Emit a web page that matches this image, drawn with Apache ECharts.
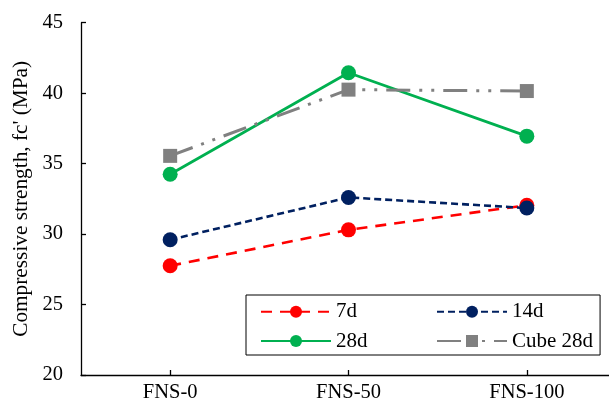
<!DOCTYPE html>
<html>
<head>
<meta charset="utf-8">
<script src="https://cdn.jsdelivr.net/npm/echarts@6/dist/echarts.min.js"></script>
<style>
  html, body { margin: 0; padding: 0; background: #fff; overflow: hidden; }
  #frame { width: 609px; height: 409px; overflow: hidden; }
  #chart { width: 620px; height: 409px; }
</style>
</head>
<body>
<div id="frame"><div id="chart"></div></div>
<script>
// Mix designs along the x axis
const categories = ['FNS-0', 'FNS-50', 'FNS-100'];

// Compressive strength (MPa) per curing age / specimen type
const strength7d = [27.75, 30.3, 32.05];
const strength14d = [29.6, 32.6, 31.85];
const strength28d = [34.25, 41.45, 36.95];
const cube28d = [35.55, 40.25, 40.15];

// Value axis range
const yMin = 20;
const yMax = 45;
const yStep = 5;

const serif = "'Liberation Serif', 'Times New Roman', serif";

const chart = echarts.init(document.getElementById('chart'), null, { renderer: 'canvas' });

function lineSeries(name, data, color, dash, symbol, width) {
  return {
    name: name,
    type: 'line',
    data: data,
    symbol: symbol,
    symbolSize: symbol === 'rect' ? 14 : 15,
    showSymbol: true,
    itemStyle: { color: color },
    lineStyle: { color: color, width: width, type: dash, cap: 'butt' },
    emphasis: { disabled: true },
    animation: false
  };
}

chart.setOption({
  backgroundColor: '#fff',
  animation: false,
  grid: { left: 81, top: 22.7, width: 535, height: 352.3, containLabel: false },
  legend: {
    left: 246,
    top: 295,
    width: 400,
    orient: 'horizontal',
    padding: [5.7, 7, 3, 14],
    itemWidth: 70,
    itemHeight: 15,
    itemGap: 7.3,
    borderColor: '#000',
    borderWidth: 1,
    backgroundColor: '#fff',
    textStyle: { fontFamily: serif, fontSize: 21, color: '#000', lineHeight: 22, width: 92.7 },
    data: [
      { name: '7d' },
      { name: '14d', textStyle: { width: 80 } },
      { name: '28d' },
      { name: 'Cube 28d', textStyle: { width: 80 } }
    ]
  },
  xAxis: {
    type: 'category',
    data: categories,
    boundaryGap: true,
    axisLine: { show: true, lineStyle: { color: '#000', width: 1.3 } },
    axisTick: { show: true, inside: true, alignWithLabel: true, length: 5, lineStyle: { color: '#000', width: 1.3 } },
    axisLabel: { fontFamily: serif, fontSize: 20.5, color: '#000', margin: 7 },
    splitLine: { show: false }
  },
  yAxis: {
    type: 'value',
    min: yMin,
    max: yMax,
    interval: yStep,
    name: "Compressive strength, fc' (MPa)",
    nameLocation: 'middle',
    nameRotate: 90,
    nameGap: 42,
    nameTextStyle: { fontFamily: serif, fontSize: 21.3, color: '#000' },
    axisLine: { show: true, lineStyle: { color: '#000', width: 1.3 } },
    axisTick: { show: true, inside: true, length: 5, lineStyle: { color: '#000', width: 1.3 } },
    axisLabel: { fontFamily: serif, fontSize: 20.5, color: '#000', margin: 18 },
    splitLine: { show: false }
  },
  series: [
    lineSeries('7d', strength7d, '#FF0000', [11, 8], 'circle', 2.6),
    lineSeries('14d', strength14d, '#002060', [7, 4], 'circle', 2.6),
    lineSeries('28d', strength28d, '#00B050', 'solid', 'circle', 2.8),
    lineSeries('Cube 28d', cube28d, '#808080', [24, 9, 3, 9, 3, 9], 'rect', 3)
  ]
});
</script>
</body>
</html>
